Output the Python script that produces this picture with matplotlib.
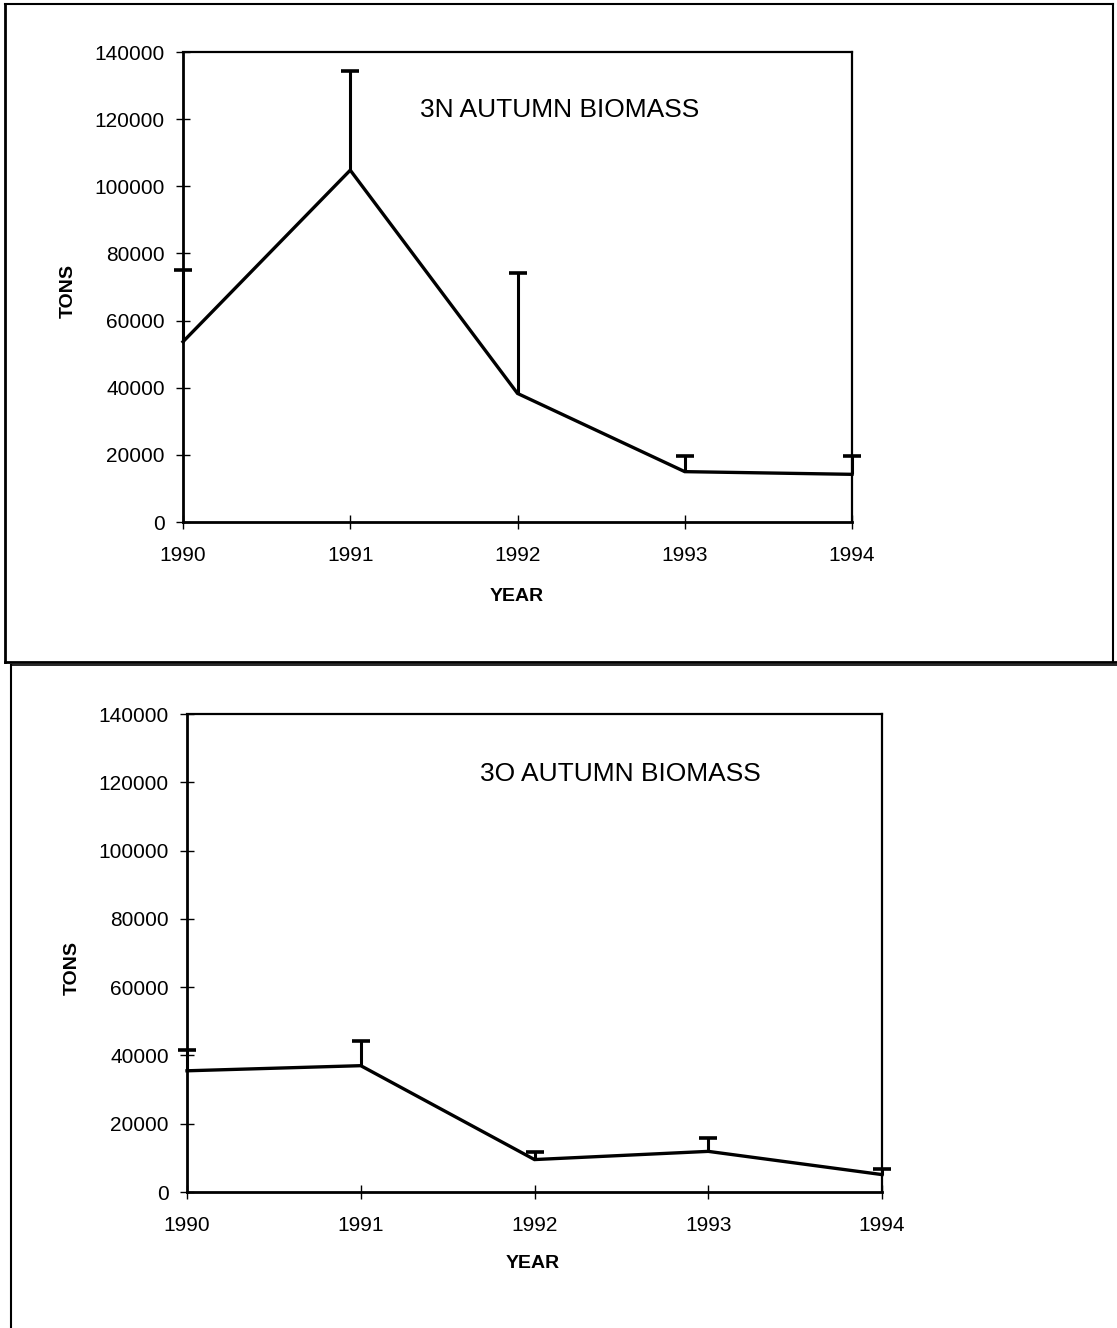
import matplotlib
matplotlib.use("Agg")
import matplotlib.pyplot as plt
from matplotlib.lines import Line2D

plt.rcParams['font.family'] = ['Liberation Sans', 'DejaVu Sans']

years = [1990, 1991, 1992, 1993, 1994]
n3_biomass = [53700, 104800, 38300, 15000, 14200]
n3_upper_err = [21300, 29500, 36000, 4700, 5400]
o3_biomass = [35500, 37000, 9500, 11900, 5100]
o3_upper_err = [6200, 7100, 2300, 3900, 1500]
yticks = [0, 20000, 40000, 60000, 80000, 100000, 120000, 140000]

W, H = 1117, 1328
fig = plt.figure(figsize=(W / 100, H / 100), dpi=100)


def px_rect(l, t, r, b):
    return [l / W, 1 - b / H, (r - l) / W, (b - t) / H]


def panel(rect, vals, errs, title, title_xy, tons_xy, year_xy):
    ax = fig.add_axes(rect)
    ax.plot(years, vals, color='black', lw=2.4, zorder=3, clip_on=False,
            solid_joinstyle='miter')
    tops = [v + e for v, e in zip(vals, errs)]
    ax.vlines(years, vals, tops, color='black', lw=2.2, zorder=3,
              clip_on=False)
    ax.plot(years, tops, ls='none', marker='_', ms=12.5, mew=2.6,
            color='black', zorder=3, clip_on=False)
    ax.set_xlim(1990, 1994)
    ax.set_ylim(0, 140000)
    ax.set_xticks(years)
    ax.set_xticklabels([str(y) for y in years])
    ax.set_yticks(yticks)
    ax.set_yticklabels([str(v) for v in yticks])
    ax.tick_params(direction='inout', length=10, width=1.0, labelsize=15,
                   color='black')
    ax.tick_params(axis='x', pad=12)
    ax.tick_params(axis='y', pad=8)
    for side in ['left', 'bottom']:
        ax.spines[side].set_linewidth(2.0)
    for side in ['top', 'right']:
        ax.spines[side].set_linewidth(1.6)
    ax.text(title_xy[0], title_xy[1], title, transform=ax.transAxes,
            fontsize=19, ha='left', va='center')
    fig.text(tons_xy[0] / W, 1 - tons_xy[1] / H, 'TONS', rotation=90,
             fontsize=14, fontweight='bold', ha='center', va='center')
    fig.text(year_xy[0] / W, 1 - year_xy[1] / H, 'YEAR',
             fontsize=14, fontweight='bold', ha='center', va='center')
    return ax


panel(px_rect(183, 52, 852, 522), n3_biomass, n3_upper_err,
      '3N AUTUMN BIOMASS', (0.354, 0.877), (68, 291), (517, 597))
panel(px_rect(187, 714, 882, 1192), o3_biomass, o3_upper_err,
      '3O AUTUMN BIOMASS', (0.4216, 0.874), (72, 968), (533, 1264))


def fline(x0, y0, x1, y1, lw=2.0):
    fig.add_artist(Line2D([x0 / W, x1 / W], [1 - y0 / H, 1 - y1 / H],
                          color='black', lw=lw, transform=fig.transFigure))


fline(5, 4, 1113, 4, 1.5)
fline(5, 4, 5, 662, 2.0)
fline(1113, 4, 1113, 662, 1.5)
fline(5, 662, 1117, 662, 2.0)
fline(11, 665, 11, 1328, 1.5)
fline(11, 665, 1117, 665, 1.2)

fig.savefig('out.png', dpi=100)
